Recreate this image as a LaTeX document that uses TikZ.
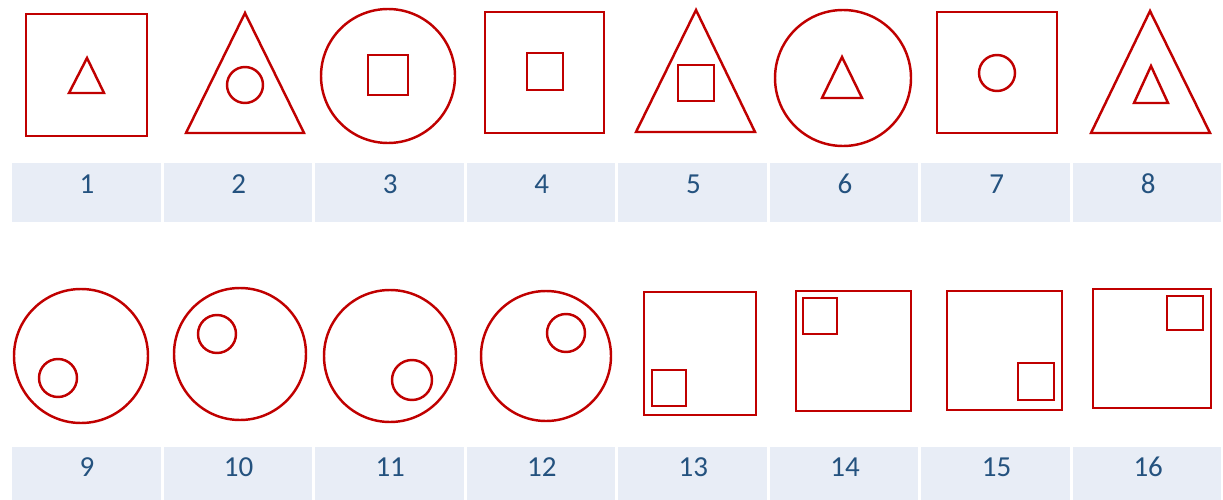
\documentclass[tikz,border=0pt]{standalone}
\usepackage{fontspec}
\setmainfont{Carlito}
\usepackage{xcolor}
\usetikzlibrary{positioning}
\definecolor{shapered}{HTML}{C00000}
\definecolor{cellblue}{HTML}{E8EDF6}
\definecolor{numblue}{HTML}{24527F}

\begin{document}
\begin{tikzpicture}[
    x=0.02cm, y=-0.02cm,
    figure/.style={draw=shapered, line width=1.4pt, line join=miter},
    cell/.style={fill=cellblue, draw=none},
    num/.style={text=numblue, font=\fontsize{16.5}{19}\selectfont, anchor=center}
]
\useasboundingbox (0,0) rectangle (1223,500);

% Label cells
\foreach \i in {0,...,7} {
    \fill[cell] ({12+151.5*\i},163) rectangle ({160.5+151.5*\i},222);
    \fill[cell] ({12+151.5*\i},447) rectangle ({160.5+151.5*\i},500);
}
\foreach \i/\n in {0/1,1/2,2/3,3/4,4/5,5/6,6/7,7/8}
    \node[num] (lab\n) at ({87+151.6*\i},184) {\n};
\foreach \i/\n in {0/9,1/10,2/11,3/12,4/13,5/14,6/15,7/16}
    \node[num] (lab\n) at ({87+151.6*\i},467) {\n};

% Row 1
\draw[figure] (26,14) rectangle (147,136);
\draw[figure] (87,58) -- (104,93) -- (69,93) -- cycle;

\draw[figure] (245,13) -- (304,133) -- (186,133) -- cycle;
\draw[figure] (245,85) circle (18);

\draw[figure] (388,76) circle (67);
\draw[figure] (368,55) rectangle (408,95);

\draw[figure] (485,12) rectangle (604,133);
\draw[figure] (527,53) rectangle (563,90);

\draw[figure] (696,10) -- (755,132) -- (636,132) -- cycle;
\draw[figure] (678,65) rectangle (714,101);

\draw[figure] (843,78) circle (68);
\draw[figure] (842,57) -- (862,98) -- (822,98) -- cycle;

\draw[figure] (937,12) rectangle (1057,133);
\draw[figure] (997,73) circle (18);

\draw[figure] (1150,11) -- (1210,133) -- (1091,133) -- cycle;
\draw[figure] (1151,66) -- (1168,103) -- (1134,103) -- cycle;

% Row 2
\draw[figure] (81,356) circle (67);
\draw[figure] (58,378) circle (19);

\draw[figure] (240,354) circle (66);
\draw[figure] (217,334) circle (19);

\draw[figure] (390,356) circle (66);
\draw[figure] (412,380) circle (20);

\draw[figure] (546,356) circle (65);
\draw[figure] (566,333) circle (19);

\draw[figure] (644,292) rectangle (756,415);
\draw[figure] (652,370) rectangle (686,406);

\draw[figure] (796,291) rectangle (911,411);
\draw[figure] (803,298) rectangle (837,334);

\draw[figure] (947,291) rectangle (1062,410);
\draw[figure] (1018,363) rectangle (1054,400);

\draw[figure] (1093,289) rectangle (1211,408);
\draw[figure] (1167,296) rectangle (1203,330);

\end{tikzpicture}
\end{document}
